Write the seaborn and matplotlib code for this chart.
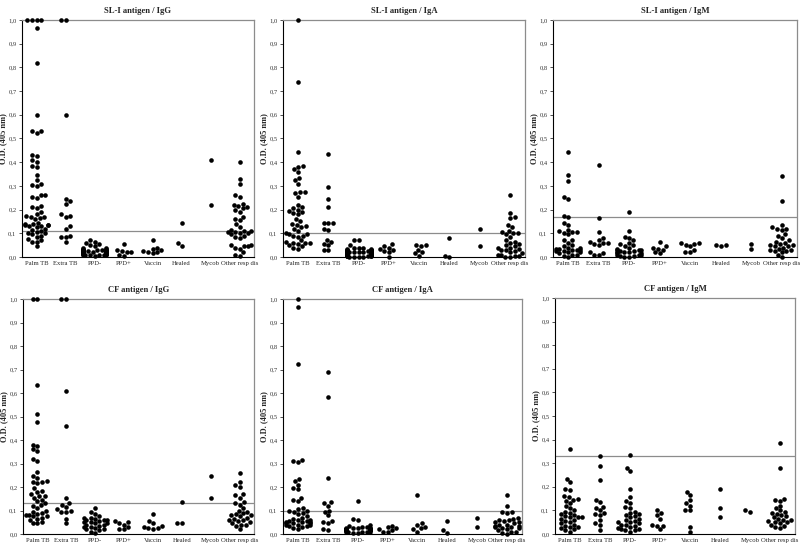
import seaborn as sns
import matplotlib.pyplot as plt
import pandas as pd
from matplotlib.ticker import FuncFormatter, MultipleLocator

groups = ["Palm TB", "Extra TB", "PPD-", "PPD+", "Vaccin", "Healed", "Mycob", "Other resp dis"]

# SL-I antigen / IgG
sl_igg = [
    [1.0, 1.0, 1.0, 1.0, 0.965, 0.82, 0.60, 0.53, 0.53, 0.525, 0.43, 0.425, 0.41, 0.40, 0.385,
     0.38, 0.345, 0.325, 0.31, 0.305, 0.30, 0.26, 0.26, 0.255, 0.25, 0.215, 0.21, 0.205, 0.19,
     0.18, 0.175, 0.17, 0.17, 0.165, 0.16, 0.145, 0.14, 0.14, 0.135, 0.135, 0.135, 0.13, 0.13,
     0.125, 0.12, 0.115, 0.11, 0.105, 0.10, 0.10, 0.095, 0.09, 0.085, 0.075, 0.07, 0.065, 0.065, 0.045],
    [1.0, 1.0, 0.60, 0.245, 0.235, 0.225, 0.18, 0.175, 0.17, 0.13, 0.12, 0.09, 0.085, 0.085, 0.065],
    [0.07, 0.065, 0.06, 0.055, 0.05, 0.045, 0.04, 0.04, 0.035, 0.035, 0.03, 0.03, 0.03, 0.028,
     0.028, 0.027, 0.025, 0.025, 0.025, 0.025, 0.024, 0.023, 0.022, 0.022, 0.022, 0.02, 0.02,
     0.02, 0.02, 0.02, 0.02, 0.02, 0.02, 0.019, 0.018, 0.018, 0.018, 0.018, 0.017, 0.016, 0.015,
     0.015, 0.015, 0.015, 0.015, 0.015, 0.015, 0.014, 0.013, 0.012, 0.012, 0.012, 0.01, 0.01,
     0.01, 0.01, 0.01, 0.008, 0.005],
    [0.055, 0.03, 0.025, 0.02, 0.02, 0.01, 0.005],
    [0.07, 0.04, 0.035, 0.03, 0.025, 0.02, 0.02, 0.015],
    [0.145, 0.06, 0.045],
    [0.41, 0.22],
    [0.40, 0.33, 0.31, 0.26, 0.255, 0.225, 0.22, 0.215, 0.21, 0.205, 0.20, 0.19, 0.17, 0.16,
     0.155, 0.14, 0.125, 0.115, 0.11, 0.11, 0.105, 0.105, 0.10, 0.10, 0.095, 0.09, 0.085, 0.08,
     0.05, 0.05, 0.045, 0.045, 0.04, 0.035, 0.02, 0.01, 0.005],
]

# SL-I antigen / IgA
sl_iga = [
    [1.0, 0.74, 0.445, 0.385, 0.38, 0.37, 0.36, 0.335, 0.325, 0.31, 0.275, 0.275, 0.27, 0.255,
     0.22, 0.21, 0.205, 0.20, 0.195, 0.19, 0.185, 0.18, 0.16, 0.15, 0.14, 0.135, 0.13, 0.125,
     0.12, 0.11, 0.10, 0.095, 0.095, 0.09, 0.09, 0.085, 0.07, 0.065, 0.06, 0.06, 0.06, 0.055,
     0.05, 0.045, 0.04, 0.035],
    [0.435, 0.295, 0.245, 0.21, 0.145, 0.145, 0.145, 0.12, 0.115, 0.07, 0.065, 0.055, 0.05, 0.03, 0.03],
    [0.07, 0.07, 0.05, 0.04, 0.04, 0.04, 0.035, 0.035, 0.03, 0.03, 0.03, 0.03, 0.03, 0.025,
     0.025, 0.025, 0.025, 0.025, 0.02, 0.02, 0.02, 0.02, 0.02, 0.02, 0.02, 0.015, 0.015, 0.015,
     0.015, 0.015, 0.015, 0.015, 0.01, 0.01, 0.01, 0.01, 0.01, 0.01, 0.01, 0.005, 0.005, 0.005,
     0.005, 0.005, 0.005, 0.0, 0.0, 0.0, 0.0],
    [0.055, 0.045, 0.04, 0.035, 0.03, 0.025, 0.02, 0.0],
    [0.05, 0.05, 0.045, 0.03, 0.02, 0.015, 0.005],
    [0.08, 0.005, 0.0],
    [0.12, 0.045],
    [0.26, 0.185, 0.17, 0.165, 0.135, 0.125, 0.11, 0.105, 0.10, 0.10, 0.095, 0.085, 0.07, 0.065,
     0.06, 0.055, 0.05, 0.045, 0.04, 0.04, 0.035, 0.03, 0.03, 0.025, 0.02, 0.015, 0.01, 0.01,
     0.005, 0.005, 0.0, 0.0],
]

# SL-I antigen / IgM
sl_igm = [
    [0.445, 0.345, 0.32, 0.255, 0.245, 0.175, 0.17, 0.145, 0.135, 0.115, 0.11, 0.105, 0.105,
     0.10, 0.095, 0.07, 0.07, 0.06, 0.05, 0.045, 0.04, 0.04, 0.035, 0.035, 0.03, 0.03, 0.03,
     0.025, 0.025, 0.02, 0.02, 0.015, 0.01, 0.01, 0.005, 0.0],
    [0.39, 0.165, 0.105, 0.08, 0.07, 0.065, 0.06, 0.06, 0.055, 0.05, 0.02, 0.015, 0.01, 0.01],
    [0.19, 0.11, 0.085, 0.08, 0.07, 0.06, 0.055, 0.05, 0.045, 0.04, 0.035, 0.03, 0.03, 0.03,
     0.025, 0.025, 0.02, 0.02, 0.02, 0.015, 0.015, 0.01, 0.01, 0.01, 0.005, 0.005, 0.0, 0.0],
    [0.065, 0.045, 0.04, 0.035, 0.03, 0.02, 0.015],
    [0.06, 0.06, 0.055, 0.05, 0.045, 0.03, 0.02, 0.02],
    [0.05, 0.05, 0.048],
    [0.055, 0.035],
    [0.34, 0.235, 0.135, 0.125, 0.12, 0.12, 0.115, 0.095, 0.09, 0.08, 0.07, 0.065, 0.06, 0.055,
     0.05, 0.05, 0.045, 0.045, 0.04, 0.035, 0.03, 0.03, 0.025, 0.025, 0.02, 0.01, 0.0],
]

# CF antigen / IgG
cf_igg = [
    [1.0, 1.0, 0.635, 0.51, 0.475, 0.38, 0.375, 0.36, 0.355, 0.32, 0.31, 0.265, 0.245, 0.24,
     0.225, 0.22, 0.22, 0.215, 0.195, 0.185, 0.18, 0.17, 0.16, 0.16, 0.155, 0.145, 0.14, 0.13,
     0.125, 0.12, 0.11, 0.10, 0.095, 0.09, 0.085, 0.08, 0.08, 0.075, 0.075, 0.07, 0.065, 0.06,
     0.05, 0.045, 0.045],
    [1.0, 1.0, 0.61, 0.46, 0.155, 0.13, 0.125, 0.115, 0.105, 0.10, 0.095, 0.095, 0.065, 0.045],
    [0.11, 0.095, 0.085, 0.075, 0.07, 0.07, 0.065, 0.06, 0.06, 0.06, 0.055, 0.05, 0.05, 0.045,
     0.045, 0.04, 0.04, 0.035, 0.03, 0.03, 0.025, 0.02, 0.02, 0.015, 0.01, 0.005],
    [0.055, 0.05, 0.045, 0.04, 0.03, 0.02, 0.02],
    [0.085, 0.055, 0.045, 0.035, 0.03, 0.025, 0.025, 0.02],
    [0.135, 0.045, 0.045],
    [0.245, 0.155],
    [0.26, 0.22, 0.21, 0.20, 0.17, 0.165, 0.155, 0.135, 0.13, 0.125, 0.11, 0.10, 0.095, 0.09,
     0.085, 0.08, 0.08, 0.075, 0.07, 0.065, 0.06, 0.06, 0.055, 0.05, 0.045, 0.04, 0.04, 0.035, 0.02],
]

# CF antigen / IgA
cf_iga = [
    [1.0, 0.965, 0.725, 0.315, 0.31, 0.305, 0.235, 0.225, 0.21, 0.195, 0.19, 0.155, 0.145, 0.14,
     0.11, 0.105, 0.10, 0.10, 0.095, 0.09, 0.085, 0.075, 0.07, 0.065, 0.06, 0.06, 0.055, 0.055,
     0.05, 0.05, 0.05, 0.045, 0.045, 0.045, 0.04, 0.04, 0.04, 0.035, 0.035, 0.03, 0.025, 0.02],
    [0.69, 0.585, 0.24, 0.135, 0.13, 0.12, 0.10, 0.095, 0.08, 0.055, 0.05, 0.045, 0.02, 0.015],
    [0.14, 0.065, 0.06, 0.04, 0.035, 0.03, 0.03, 0.025, 0.025, 0.025, 0.025, 0.025, 0.02, 0.02,
     0.02, 0.02, 0.02, 0.02, 0.02, 0.02, 0.02, 0.018, 0.018, 0.015, 0.015, 0.015, 0.015, 0.015,
     0.015, 0.015, 0.015, 0.012, 0.01, 0.01, 0.01, 0.01, 0.01, 0.005, 0.005],
    [0.035, 0.03, 0.025, 0.02, 0.015, 0.01, 0.01],
    [0.165, 0.045, 0.04, 0.03, 0.025, 0.02, 0.01],
    [0.055, 0.015, 0.005],
    [0.07, 0.03],
    [0.165, 0.12, 0.095, 0.095, 0.09, 0.07, 0.065, 0.06, 0.06, 0.055, 0.05, 0.05, 0.045, 0.04,
     0.04, 0.035, 0.035, 0.03, 0.03, 0.025, 0.025, 0.02, 0.015, 0.01, 0.01, 0.005, 0.0],
]

# CF antigen / IgM
cf_igm = [
    [0.36, 0.235, 0.22, 0.19, 0.185, 0.16, 0.155, 0.15, 0.145, 0.14, 0.13, 0.12, 0.11, 0.10,
     0.095, 0.09, 0.085, 0.08, 0.075, 0.07, 0.07, 0.07, 0.065, 0.06, 0.055, 0.05, 0.045, 0.04,
     0.035, 0.03, 0.03, 0.025, 0.02, 0.015, 0.01],
    [0.33, 0.29, 0.23, 0.145, 0.135, 0.115, 0.11, 0.10, 0.09, 0.085, 0.08, 0.06, 0.045, 0.04, 0.015],
    [0.335, 0.28, 0.265, 0.19, 0.155, 0.14, 0.13, 0.115, 0.11, 0.095, 0.09, 0.085, 0.08, 0.075,
     0.07, 0.065, 0.06, 0.055, 0.05, 0.05, 0.045, 0.04, 0.04, 0.035, 0.03, 0.025, 0.02, 0.02,
     0.015, 0.015, 0.01],
    [0.10, 0.09, 0.08, 0.065, 0.04, 0.035, 0.035, 0.02],
    [0.18, 0.165, 0.145, 0.13, 0.12, 0.10, 0.10, 0.03, 0.01],
    [0.19, 0.11, 0.07],
    [0.10, 0.095],
    [0.385, 0.28, 0.15, 0.145, 0.14, 0.12, 0.11, 0.10, 0.095, 0.09, 0.085, 0.08, 0.075, 0.07,
     0.065, 0.06, 0.06, 0.055, 0.05, 0.05, 0.045, 0.04, 0.035, 0.03, 0.025],
]

titles = ["SL-I antigen / IgG", "SL-I antigen / IgA", "SL-I antigen / IgM",
          "CF antigen / IgG", "CF antigen / IgA", "CF antigen / IgM"]
panels = [sl_igg, sl_iga, sl_igm, cf_igg, cf_iga, cf_igm]
cutoffs = [0.11, 0.10, 0.17, 0.13, 0.10, 0.33]

sns.set_theme(style="ticks")
plt.rcParams["font.family"] = ["Liberation Serif", "DejaVu Serif"]

W, H = 800, 548
# axes boxes in pixels: left, right, top, bottom
boxes = [(22, 254, 20, 257), (283, 525, 20, 257), (553, 797, 20, 257),
         (23, 254, 299, 534), (283, 522, 299, 534), (555, 795, 298, 534)]

fig = plt.figure(figsize=(8, 5.48), dpi=100)
comma = FuncFormatter(lambda v, p: f"{v:.1f}".replace(".", ","))

for title, panel, cut, (l, r, t, b) in zip(titles, panels, cutoffs, boxes):
    ax = fig.add_axes([l / W, 1 - b / H, (r - l) / W, (b - t) / H])
    df = pd.DataFrame({
        "group": [g for g, vals in zip(groups, panel) for _ in vals],
        "od": [v for vals in panel for v in vals],
    })
    sns.swarmplot(data=df, x="group", y="od", order=groups, color="black",
                  size=3.3, linewidth=0, ax=ax, warn_thresh=1.0)
    for c in ax.collections:
        c.set_clip_on(False)
    ax.axhline(cut, color="#8c8c8c", lw=0.9, zorder=0)
    ax.set_xlim(-0.5, 7.5)
    ax.set_ylim(0, 1.0)
    ax.yaxis.set_major_locator(MultipleLocator(0.1))
    ax.yaxis.set_major_formatter(comma)
    ax.tick_params(axis="y", labelsize=4.7, length=2.5, width=0.6, pad=1.5, colors="#333333")
    ax.tick_params(axis="x", labelsize=4.8, length=0, pad=3)
    for s in ["left", "bottom"]:
        ax.spines[s].set_color("black")
        ax.spines[s].set_linewidth(0.8)
    for s in ["top", "right"]:
        ax.spines[s].set_color("#8c8c8c")
        ax.spines[s].set_linewidth(0.9)
    ax.set_xlabel("")
    ax.set_ylabel("O.D. (405 nm)", fontsize=6, fontweight="bold")
    # label sits about 14 px left of the axis, overlapping the tick-label column edge
    ax.yaxis.set_label_coords(-15 / (r - l), 0.5)
    ax.set_title(title, fontsize=6.2, fontweight="bold", pad=5)

fig.savefig("out.png", dpi=100)
